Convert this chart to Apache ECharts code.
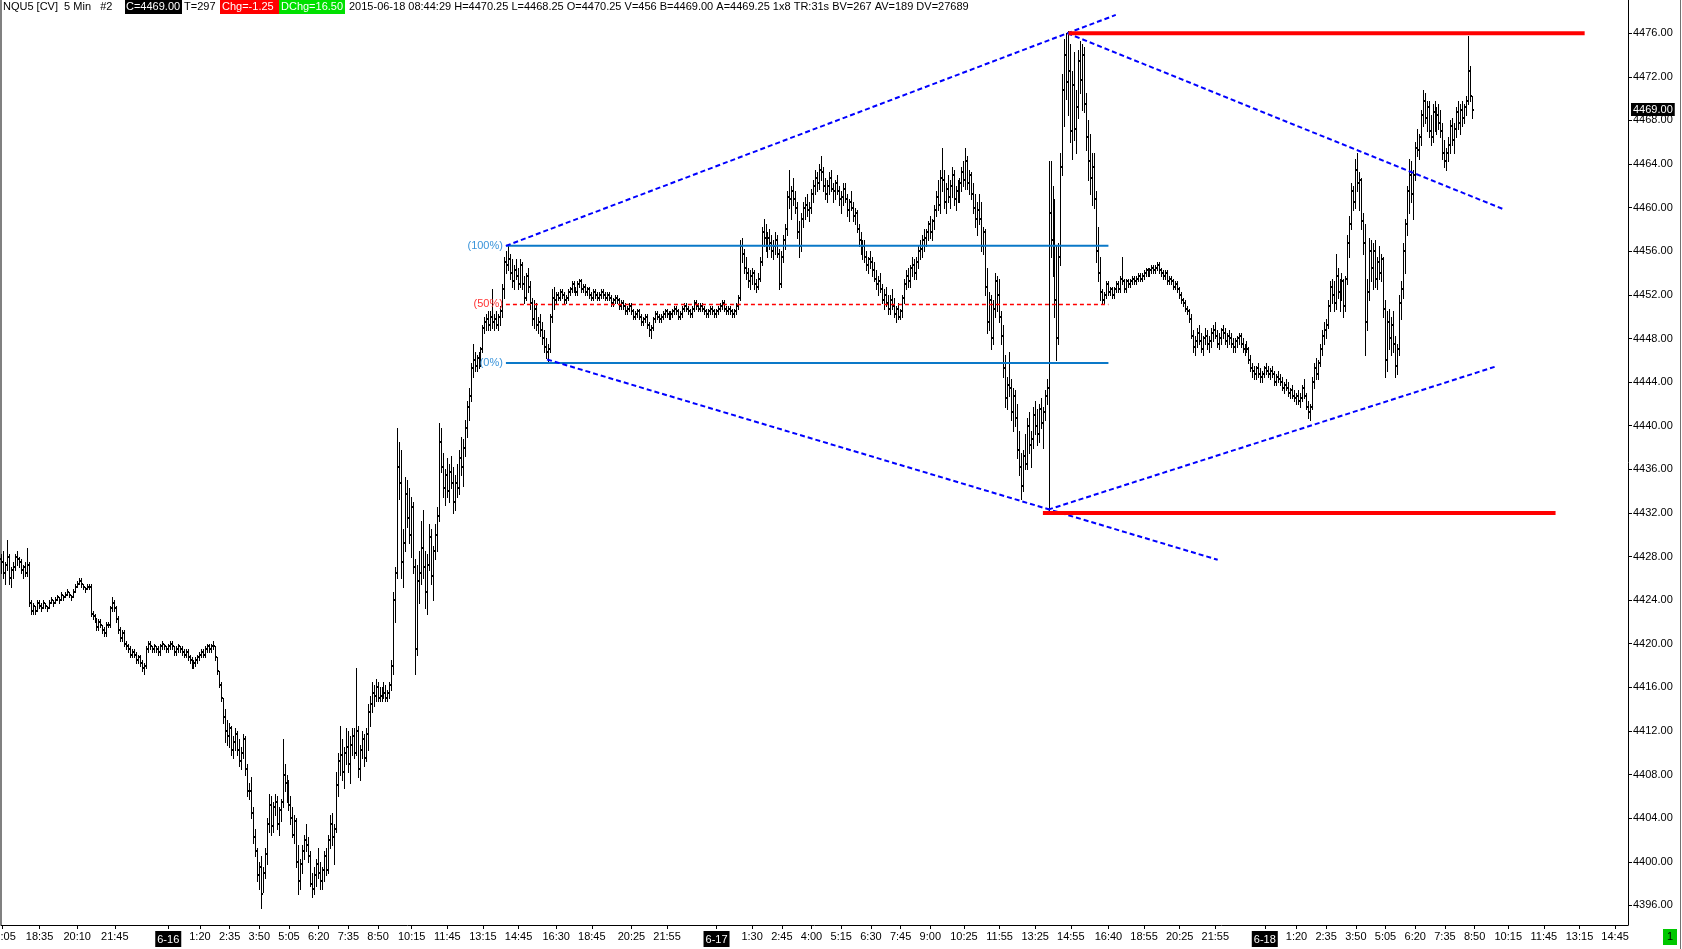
<!DOCTYPE html>
<html><head><meta charset="utf-8">
<script src="https://cdn.jsdelivr.net/npm/echarts@6/dist/echarts.min.js"></script>
<style>html,body{margin:0;padding:0;background:#fff;overflow:hidden}#c{width:1682px;height:949px}</style>
</head><body><div id="c"></div><script>
// ---- sessions (bar end times, 5-minute bars) ----
const sessions = [
  ['6-15','16:05','16:15'], ['6-15','16:30','17:15'], ['6-15','18:05','23:55'],
  ['6-16','0:00','16:15'], ['6-16','16:30','17:15'], ['6-16','18:05','23:55'],
  ['6-17','0:00','16:15'], ['6-17','16:30','17:15'], ['6-17','18:05','23:55'],
  ['6-18','0:00','15:15']
];
// x-axis tick labels (category keys)
const xTickLabels = [
 '6-15 16:05','6-15 18:35','6-15 20:10','6-15 21:45',
 '6-16 0:00','6-16 1:20','6-16 2:35','6-16 3:50','6-16 5:05','6-16 6:20','6-16 7:35','6-16 8:50','6-16 10:15','6-16 11:45','6-16 13:15','6-16 14:45','6-16 16:30','6-16 18:45','6-16 20:25','6-16 21:55',
 '6-17 0:00','6-17 1:30','6-17 2:45','6-17 4:00','6-17 5:15','6-17 6:30','6-17 7:45','6-17 9:00','6-17 10:25','6-17 11:55','6-17 13:25','6-17 14:55','6-17 16:40','6-17 18:55','6-17 20:25','6-17 21:55',
 '6-18 0:00','6-18 1:20','6-18 2:35','6-18 3:50','6-18 5:05','6-18 6:20','6-18 7:35','6-18 8:50','6-18 10:15','6-18 11:45','6-18 13:15','6-18 14:45'
];
// y-axis tick labels
const yTicks = [4396,4400,4404,4408,4412,4416,4420,4424,4428,4432,4436,4440,4444,4448,4452,4456,4460,4464,4468,4472,4476];

// ---- OHLC data: [high, low, close]; open = previous bar close ----
const firstOpen = 4427.75;
const bars0615 = [
[4428.25,4426.5,4427.5],[4428.5,4426,4426.5],[4427.5,4425.5,4427.25],[4429.5,4426.75,4428],[4428.25,4425.5,4426],
[4427,4425.25,4426.75],[4427.5,4426,4427],[4428.25,4426.75,4428],[4428.5,4427.25,4427.75],[4428,4427,4427.5],
[4427.75,4426.5,4426.75],[4427.25,4426,4427],[4427.5,4426.25,4426.5],[4428.75,4426.25,4427.25],[4427.5,4423.5,4423.75],
[4424,4422.75,4423],[4423.75,4422.75,4423.5],[4423.5,4422.75,4423],[4424,4423,4423.75],[4424,4423.25,4423.5],
[4423.75,4423,4423.25],[4424,4423.25,4423.75],[4423.75,4423.25,4423.5],[4423.5,4423,4423.25],[4424,4423.25,4423.75],
[4424.25,4423.75,4424],[4424,4423.5,4423.75],[4424.25,4423.75,4424],[4424.5,4424,4424.25],[4424.25,4423.75,4424],
[4424.75,4424,4424.5],[4424.5,4424,4424.25],[4424.75,4424.25,4424.5],[4425,4424.5,4424.75],[4424.75,4424.25,4424.5],
[4424.5,4424,4424.25],[4425,4424.25,4424.75],[4425.5,4424.75,4425.25],[4425.75,4425.25,4425.5],[4426,4425.5,4425.75],
[4426,4425.25,4425.5],[4425.5,4425,4425.25],[4425.25,4424.75,4425],[4425.5,4425,4425.25],[4425.5,4425,4425.25],
[4425.5,4422.5,4422.75],[4423,4422.25,4422.5],[4422.75,4422,4422.25],[4422.25,4421.25,4421.5],[4422.25,4421.25,4422],
[4422.25,4421.5,4421.75],[4421.75,4421,4421.25],[4421.5,4420.75,4421],[4422,4420.75,4421.75],[4422,4421.5,4421.75],
[4423.5,4421.5,4423.25],[4424.25,4423,4423.75],[4424,4423,4423.25],[4423.5,4422,4422.25],[4422.5,4421,4421.25],
[4421.5,4420.25,4420.5],[4421.25,4420.25,4421],[4421.25,4419.75,4420],[4420.25,4419.5,4419.75],[4420,4419.25,4419.5],
[4419.75,4418.75,4419],[4419.5,4418.75,4419.25],[4419.5,4418.75,4419],[4419.25,4418.25,4418.5],[4419,4418.25,4418.75],
[4419,4418,4418.25],[4418.5,4417.5,4417.75],[4418.25,4417.25,4418],[4419.75,4417.75,4419.5],[4420.25,4419.25,4420],
[4420.25,4419.5,4419.75],[4419.75,4419.25,4419.5],[4420,4419.25,4419.75],[4419.75,4419.25,4419.5],[4419.75,4419,4419.25],
[4420,4419,4419.75],[4420.25,4419.5,4420],[4420,4419.5,4419.75],[4419.75,4419.25,4419.5]
];
const bars0616 = [
[4420,4419.25,4419.75],[4420.25,4419.5,4420],[4420.25,4419.5,4419.75],[4419.75,4419,4419.25],[4419.75,4419,4419.5],
[4420,4419.25,4419.75],[4419.75,4419.25,4419.5],[4419.75,4419,4419.25],[4419.5,4418.75,4419],[4419.5,4418.75,4419.25],
[4419.5,4418.5,4418.75],[4419,4418.25,4418.5],[4418.75,4417.75,4418],[4418.5,4417.75,4418.25],[4418.75,4418,4418.5],
[4419,4418.25,4418.75],[4419.25,4418.5,4419],[4419.5,4418.75,4419.25],[4419.5,4418.75,4419],[4419.75,4418.75,4419.5],
[4420,4419.25,4419.75],[4420,4419.25,4419.5],[4420,4419.25,4419.75],[4420.25,4419.5,4419.75],[4419.75,4418.5,4418.75],
[4418.75,4417.25,4417.5],[4417.5,4416,4416.25],[4416.5,4414.75,4415],[4415,4412.75,4413.25],[4414,4411,4412],
[4413,4410.75,4411.5],[4412.75,4410.5,4412.25],[4412.5,4409.75,4410.25],[4411.5,4409.5,4411],[4412.25,4410.25,4411.75],
[4412,4409.75,4410.25],[4411.25,4408.75,4409.25],[4410.5,4408.5,4410],[4411.75,4409.5,4411.25],[4411.5,4408,4408.5],
[4409,4406,4406.5],[4407.25,4405.75,4406.5],[4407.75,4404,4404.5],[4405,4401.75,4402.25],[4403,4400.5,4401],
[4401.25,4398.25,4398.75],[4400,4397.5,4399.5],[4400.5,4395.75,4397],[4399.5,4397.25,4399],[4401.25,4398.5,4400.75],
[4404,4399.75,4403.5],[4406.25,4402.75,4405.25],[4406,4402.5,4403.25],[4405.5,4402.75,4405],[4406.25,4404.25,4405.5],
[4406,4403,4403.5],[4405,4402.5,4404.75],[4405.75,4403.75,4405.5],[4411.25,4405,4408],[4409,4406.5,4407.25],
[4408,4405.5,4406],[4407.5,4404.75,4405.25],[4406,4403.5,4404],[4405,4402.25,4402.5],[4404.25,4401.75,4403.75],
[4404,4399.5,4400],[4401.5,4397,4398.25],[4400.25,4397.5,4399.75],[4401.5,4399,4401],[4402.5,4400.25,4402],
[4403.5,4401,4401.5],[4402.25,4400,4400.5],[4401,4397.75,4398],[4399,4396.75,4397.5],[4399.5,4397,4398.75],
[4400.25,4397.75,4399.75],[4401.25,4398.5,4399],[4400,4397.5,4398.25],[4399.5,4397.5,4399.25],[4401,4398.25,4400.5],
[4401.25,4398.75,4399.25],[4402.5,4399,4402],[4404.25,4401.25,4403.5],[4404.5,4401.5,4402.25],[4403.5,4399.75,4403],
[4408.25,4402.75,4407],[4410,4406,4409.25],[4412.5,4408,4409.75],[4411.25,4407.5,4408.25],[4410.5,4406.75,4410],
[4412.25,4409,4410.5],[4412,4408.25,4409],[4411.5,4407.25,4410.75],[4412.25,4409.75,4411.5],[4412.25,4409.5,4410],
[4417.75,4409.75,4412],[4412.5,4407.75,4408.5],[4410.75,4407.5,4410.25],[4412,4409.5,4411.25],[4411.75,4408.75,4409.5],
[4412.25,4409.25,4411.75],[4414.5,4410.25,4413.75],[4415.25,4412.5,4414.5],[4416.5,4413.75,4415.5],[4416.25,4414.25,4415.25],
[4416.75,4414.75,4416],[4416.5,4414.75,4415],[4416,4414.75,4415.25],[4416,4414.75,4415.75],[4416.5,4415,4415.5],
[4416.25,4414.75,4415],[4415.75,4414.75,4415.5],[4416.5,4415,4416.25],[4418.5,4415.75,4418],[4424.75,4417.25,4424],
[4427,4422,4426.5],[4439.75,4426,4436.25],[4438.5,4433.25,4434.75],[4437.75,4426,4427.5],[4430.5,4425.25,4429.25],
[4435.25,4428.5,4433.75],[4435,4430.75,4431.5],[4434.25,4429.25,4430],[4433.5,4428,4432.5],[4433,4426.5,4427],
[4427.75,4417.25,4419.5],[4427.25,4419,4425.75],[4428.5,4423.75,4426.5],[4431.25,4425.5,4428.75],[4432.25,4426,4427],
[4428.5,4423.25,4424.75],[4428.25,4422.75,4427.25],[4431,4426.75,4429.75],[4430.5,4425.5,4426.25],[4429,4424,4428.5],
[4431,4427.75,4430],[4432.5,4428.5,4431.75],[4440.25,4431.25,4438.5],[4439.75,4435.75,4436.25],[4437.5,4433.5,4434.25],
[4436,4432.75,4435.5],[4437,4433.5,4434],[4436.5,4433,4435.75],[4437.25,4434.25,4434.75],[4436.25,4432,4433],
[4435.5,4432.25,4434.75],[4436.5,4433.5,4434.25],[4437.75,4433.75,4437],[4439,4435.5,4436.25],[4438.75,4434.5,4438],
[4440.5,4437.25,4439.75],[4442.25,4439,4441.75],[4443.5,4440.5,4442.75],[4445.75,4442.25,4445.25],[4447.5,4444.5,4446],
[4446.75,4445,4445.5],[4446.5,4445,4446.25],[4446.75,4445.25,4446],[4447.25,4445.5,4447],[4449.25,4446.75,4449],
[4450,4448.5,4449.5],[4450.25,4448.75,4449.75],[4450.5,4448.75,4449.25],[4450.5,4448.75,4450],[4452.5,4449,4449.5],
[4450.25,4448.75,4449.75],[4450.5,4449,4449.25],[4450.25,4448.75,4450],[4451,4449.25,4450.5],[4453,4450,4452.5],
[4455.5,4451.75,4455],[4456,4454,4454.75],[4456.5,4454.25,4455.25],[4455.75,4453.5,4454],[4455.25,4452.75,4453.25],
[4454.75,4452.5,4454.25],[4455.25,4453.5,4453.75],[4454.5,4452.5,4453],[4455.25,4452.75,4454.75],[4455,4452.5,4453],
[4453.75,4451.25,4451.75],[4454,4451.5,4453.75],[4454.5,4452.25,4452.75],[4453.25,4450.75,4451.25],[4451.75,4449.25,4449.75],
[4451.5,4449,4450.75],[4451.25,4448.75,4449.25],[4450,4448.5,4449.5],[4450.25,4448.25,4448.75],[4449.5,4447.5,4448],
[4448.75,4446.75,4447.25],[4448,4446.25,4446.75],[4447.5,4445.75,4447],[4450.25,4446.75,4450],[4452.5,4449.5,4451.75],
[4452.75,4450.75,4451.5],[4452.25,4451.25,4452],[4452.25,4451.5,4451.75],[4452.5,4451.5,4452.25],[4452.5,4451.75,4452],
[4452.25,4451.25,4451.5],[4452,4451.25,4451.75],[4452.5,4451.5,4452.25],[4452.75,4452,4452.5],[4453.25,4452.25,4453],
[4453.25,4452.25,4452.5],[4452.75,4452,4452.25],[4453.25,4452,4453],[4453.5,4452.75,4453.25],[4453.5,4452.25,4452.5],
[4453,4452.25,4452.75],[4453,4452,4452.25],[4452.75,4452,4452.5],[4452.75,4451.75,4452],[4452.25,4451.5,4451.75],
[4452.5,4451.5,4452.25],[4452.5,4451.75,4452],[4452.25,4451.5,4451.75],[4452.25,4451.5,4452],[4452.5,4451.75,4452.25],
[4452.5,4451.75,4452],[4452.25,4451.5,4451.75],[4452.25,4451.5,4452],[4452.25,4451.5,4451.75],[4452,4451,4451.25],
[4451.75,4451,4451.5],[4452,4451.25,4451.75],[4452,4451.25,4451.5],[4451.75,4450.75,4451],[4451.5,4450.75,4451.25],
[4451.5,4450.75,4451],[4451.25,4450.25,4450.5],[4451,4450.25,4450.75],[4451.25,4450.5,4451],[4451.25,4450.25,4450.5],
[4450.75,4449.75,4450],[4450.5,4449.75,4450.25],[4450.75,4450,4450.5],[4450.75,4449.75,4450],[4450.25,4449.25,4449.5],
[4450,4449.25,4449.75],[4450.25,4449.5,4450],[4450.25,4449,4449.25],[4449.5,4448.25,4448.75],[4449.25,4448,4449],
[4450,4448.75,4449.75],[4450.5,4449.5,4450.25],[4450.5,4449.75,4450],[4450.25,4449.5,4449.75],[4450.25,4449.5,4450],
[4450.5,4449.75,4450.25],[4450.75,4450,4450.5],[4450.75,4450,4450.25],[4450.5,4449.75,4450],[4450.5,4449.75,4450.25],
[4450.75,4450,4450.5],[4451,4450.25,4450.75],[4451,4450.25,4450.5],[4450.75,4449.75,4450],[4450.5,4449.75,4450.25],
[4451,4450,4450.75],[4451.25,4450.5,4451],[4451.25,4450.5,4450.75],[4451,4450.25,4450.5],[4450.75,4450,4450.25],
[4451,4450,4450.75],[4451.5,4450.5,4451.25],[4451.5,4450.75,4451],[4451.25,4450.5,4450.75],[4451.25,4450.5,4451],
[4451.25,4450.5,4450.75],[4451,4450.25,4450.5],[4450.75,4450,4450.25],[4450.75,4450,4450.5],[4451,4450.25,4450.75],
[4451,4450.25,4450.5],[4450.75,4450,4450.25]
];
const bars0617 = [
[4450.75,4450,4450.5],[4451,4450.25,4450.75],[4451.25,4450.5,4451],[4451.5,4450.75,4451.25],[4451.5,4450.5,4450.75],
[4451,4450.25,4450.5],[4451,4450.25,4450.75],[4451,4450.25,4450.5],[4450.75,4450,4450.25],[4450.75,4450,4450.5],
[4451.25,4450.25,4451],[4452,4450.75,4451.75],[4457,4451.5,4456.5],[4457.25,4455,4455.75],[4456.25,4454,4454.5],
[4455.5,4453.5,4454],[4454.5,4452.75,4453.25],[4454.25,4452.5,4453.75],[4454.5,4453,4454],[4454.25,4452.5,4453],
[4453.5,4452.25,4452.75],[4454,4452.5,4453.5],[4455.5,4453.25,4455],[4458.25,4454.75,4457.75],[4459,4456.5,4457.25],
[4458.5,4456,4456.5],[4457.75,4455.5,4457.25],[4458,4456.25,4456.75],[4457.5,4455.5,4456],[4457,4455.25,4456.5],
[4457.75,4455.75,4457],[4457.5,4455.5,4455.75],[4456.25,4452.5,4453],[4456,4452.75,4455.5],[4457.5,4455,4457],
[4458.5,4456.25,4458],[4461.5,4457.5,4461],[4463.5,4460,4460.75],[4462,4459,4461.5],[4462.75,4460.25,4460.75],
[4461.5,4459.5,4460],[4460.5,4457.25,4457.75],[4458.75,4455.5,4456.5],[4459.5,4456,4459],[4460.5,4458.25,4460],
[4461,4459,4460.25],[4461.25,4459.25,4459.75],[4460.5,4458.75,4460],[4461.75,4459.5,4461.25],[4462.5,4460.5,4462],
[4463.5,4461.25,4462.75],[4463.25,4461.5,4462.25],[4464,4461.75,4463.5],[4464.75,4462.5,4463.25],[4463.75,4461.5,4462],
[4462.75,4460.75,4461.25],[4462.5,4460.5,4462],[4463.25,4461.25,4462.75],[4463.5,4461.5,4461.75],[4462.25,4460.5,4461.5],
[4462.5,4460.75,4462.25],[4463,4461.25,4461.5],[4462,4460.25,4460.75],[4461.5,4459.5,4461],[4462.25,4460.25,4461.75],
[4462.25,4460.5,4460.75],[4461.25,4459.25,4459.75],[4460.75,4458.75,4460.5],[4461.5,4459.75,4460],[4460.5,4458.75,4459.25],
[4460,4458.5,4459.5],[4459.75,4457.75,4458],[4458.5,4456.5,4457],[4457.75,4455.75,4456.25],[4457,4455.25,4456.5],
[4457,4455,4455.5],[4456,4454.25,4454.75],[4455.5,4454,4455.25],[4456,4454.5,4455],[4455.5,4453.75,4454.25],
[4455,4453.25,4453.5],[4454.25,4452.5,4453],[4453.75,4452,4453.25],[4454,4452.25,4452.5],[4453,4451.25,4451.5],
[4452.5,4450.75,4452],[4452.75,4451,4451.25],[4452,4450.25,4450.75],[4452,4450.25,4451.5],[4452.5,4450.75,4451],
[4451.75,4450,4450.25],[4451,4449.5,4450.75],[4451.25,4449.75,4450],[4450.75,4449.75,4450.5],[4452,4450,4451.75],
[4453.5,4451.25,4453],[4454.25,4452.5,4453.75],[4454.5,4452.75,4453.25],[4454.75,4452.75,4454.5],[4455.5,4453.75,4454.75],
[4455.25,4453.5,4454],[4455.5,4453.5,4455],[4456.5,4454.5,4456],[4457,4455.25,4456.25],[4457.5,4455.5,4457],
[4458,4456,4457.25],[4458,4456.5,4457.75],[4458.75,4457,4458.5],[4459.25,4457.25,4457.75],[4459,4457,4458.75],
[4460.25,4458,4459.75],[4461.5,4459.25,4461],[4462.5,4459.75,4460.25],[4463.5,4459.5,4462.75],[4465.5,4461.5,4462.5],
[4463.5,4460,4460.5],[4462.25,4459.5,4461.75],[4463,4460.5,4461],[4462.5,4460,4462],[4463.75,4461,4463],
[4463.5,4460.25,4460.75],[4462,4459.75,4461.5],[4462.5,4460.5,4461.25],[4462.75,4460.5,4462.25],[4463.75,4461.5,4463.25],
[4464.25,4462,4462.5],[4465.5,4461.75,4464.25],[4464.75,4461.75,4462.25],[4463.5,4461.25,4463],[4463.25,4460.75,4461.25],
[4462.25,4459.5,4460],[4461.25,4458.25,4459],[4460.5,4457.5,4459.75],[4461.25,4458.5,4459],[4460.5,4456,4456.5],
[4458.25,4455.75,4457.75],[4458,4452,4452.75],[4454.5,4448.5,4449.5],[4452.25,4448.75,4451.5],[4452,4447,4448],
[4451.5,4447.5,4450.75],[4454,4450,4453.25],[4453.75,4450.5,4452],[4453.5,4449.5,4450],[4450.5,4447.5,4448.25],
[4449.25,4444.5,4445.25],[4446.5,4441.75,4442.5],[4444.5,4441.5,4443.75],[4446.75,4442.75,4443.5],[4444.25,4440.5,4441.25],
[4443.5,4439.5,4442.75],[4443.25,4440,4440.75],[4442,4437,4437.75],[4439.5,4435.5,4436.25],[4437.5,4433.25,4434.5],
[4437.75,4434,4437.25],[4439.25,4436,4436.5],[4440.75,4436,4440],[4441.25,4437.5,4438.25],[4439.5,4436.25,4438.75],
[4441.75,4438,4441],[4442.25,4439.25,4440],[4441.5,4438.25,4439.25],[4442,4438.5,4441.5],[4442.5,4439.75,4440.25],
[4441.75,4438,4441.25],[4443.25,4440.5,4442.75],[4444.25,4442,4443.5],[4464.25,4432.25,4459.5],[4464.25,4455.5,4457],
[4462,4453.75,4455.25],[4460.75,4450,4451.5],[4456.5,4446,4448],[4456.75,4447.5,4455.5],[4465,4454.75,4463.75],
[4472.25,4463,4470.75],[4475.5,4467.5,4474],[4476,4470,4471.5],[4476.25,4468.5,4472.5],[4475,4466,4467],
[4472.5,4464.5,4471.25],[4474.25,4466.25,4467.25],[4470.75,4465,4469.25],[4474.5,4468.25,4473.5],[4475.25,4470.5,4471.75],
[4475,4469,4474],[4474.75,4468.75,4469.5],[4470.5,4465.25,4466.5],[4468,4462.5,4464.25],[4466.75,4461.25,4462.75],
[4465,4460.25,4463.75],[4465,4460,4460.75],[4461.5,4455,4456],[4458.25,4453.25,4454],[4455.5,4451.5,4452.25],
[4452.5,4451.25,4451.5],[4452.25,4451.25,4452],[4453.25,4451.75,4453],[4453.25,4452,4452.25],[4452.75,4452,4452.5],
[4452.75,4451.75,4452],[4452.75,4451.75,4452.5],[4453.25,4452.25,4453],[4453.25,4452.25,4452.5],[4453.75,4452.25,4453.5],
[4455.5,4453,4453.25],[4453.5,4452.25,4452.5],[4453.5,4452.25,4453.25],[4453.5,4452.75,4453],[4453.5,4452.75,4453.25],
[4453.75,4453,4453.5],[4453.75,4453,4453.25],[4453.75,4453,4453.5],[4454,4453.25,4453.75],[4454,4453.25,4453.5],
[4454,4453.25,4453.75],[4454.25,4453.5,4454],[4454.5,4453.75,4454.25],[4454.5,4453.75,4454],[4454.5,4453.75,4454.25],
[4454.75,4454,4454.5],[4454.75,4454,4454.25],[4454.75,4454,4454.5],[4455,4454.25,4454.75],[4455,4454,4454.25],
[4454.5,4453.75,4454],[4454.25,4453.5,4453.75],[4454.25,4453.5,4454],[4454.25,4453,4453.25],[4453.75,4453,4453.5],
[4453.75,4453,4453.25],[4453.5,4452.5,4452.75],[4453.25,4452.5,4453],[4453.25,4452.25,4452.5],[4452.75,4451.75,4452],
[4452.25,4451.25,4451.5],[4451.75,4451,4451.25],[4451.5,4450.5,4450.75],[4451,4450.25,4450.5],[4450.75,4449.5,4449.75],
[4450.25,4448,4448.25],[4448.75,4446.75,4447.25],[4448.25,4446.5,4447.75],[4449,4447.25,4448.5],[4449.25,4447.5,4447.75],
[4448.5,4446.75,4447],[4448.25,4446.5,4448],[4449,4447.5,4448.25],[4448.75,4447,4447.5],[4448.25,4446.75,4447.75],
[4449,4447.25,4448.5],[4449.25,4447.75,4448.75],[4449.5,4448,4448.25],[4448.75,4447.25,4447.5],[4448.5,4447,4448],
[4449,4447.5,4448.75],[4449.25,4448,4448.5],[4449,4447.5,4447.75],[4448.5,4447.25,4448.25],[4448.75,4447.5,4448],
[4448.5,4447.25,4447.5],[4448,4446.75,4447.25],[4448,4446.75,4447.75],[4448.25,4447.25,4448],[4448.5,4447.5,4448.25],
[4448.5,4447.25,4447.5],[4448,4446.75,4447],[4447.5,4446.5,4447.25],[4447.75,4446.75,4447],[4447.25,4445.75,4446],
[4446.5,4445,4445.25],[4445.75,4444.5,4445],[4445.5,4444.25,4444.75],[4445.5,4444.25,4445.25],[4445.75,4444.5,4444.75],
[4445.25,4444,4444.5],[4445,4444,4444.75]
];
const bars0618 = [
[4445.5,4444.5,4445.25],[4445.75,4444.75,4445],[4445.5,4444.5,4444.75],[4445.25,4444.25,4445],[4445.5,4444.5,4444.75],
[4445,4443.75,4444],[4444.75,4443.75,4444.5],[4445,4444,4444.25],[4444.75,4443.75,4444],[4444.5,4443.25,4443.5],
[4444,4443,4443.75],[4444.25,4443.25,4443.5],[4444,4442.75,4443],[4443.5,4442.5,4443.25],[4443.75,4442.5,4442.75],
[4443.25,4442.25,4442.5],[4443,4442,4442.75],[4443.25,4442,4442.25],[4443,4441.75,4442.5],[4443.75,4442.25,4443.5],
[4444.25,4442.5,4442.75],[4443,4441.5,4441.75],[4442.25,4440.75,4441.25],[4442,4440.5,4441.75],[4444.5,4441.5,4444],
[4445.75,4443.5,4445.25],[4446.25,4444.25,4444.75],[4446,4444.25,4445.75],[4447.5,4445.5,4447],[4448.75,4446.5,4448.25],
[4449.5,4447.5,4448.75],[4449.75,4448,4449.25],[4451.5,4449,4451],[4453.25,4450.5,4452.75],[4453.5,4451.25,4452],
[4453.25,4450.5,4451.25],[4455.75,4450.75,4453.75],[4454.5,4451.75,4452.25],[4453.5,4450.5,4452.75],[4454,4451.5,4453.25],
[4453.5,4450,4451],[4453.75,4450.5,4453.5],[4457.5,4453,4456.75],[4459.25,4455.5,4458.5],[4462.25,4458,4461.5],
[4462,4459.75,4460.5],[4464.5,4460,4463.5],[4465,4461.5,4462.25],[4463.25,4459.75,4462.5],[4462.75,4458,4458.75],
[4459.5,4455.75,4456.75],[4458.5,4446.5,4449.5],[4453.5,4448.75,4452.25],[4457.25,4451.5,4456],[4457,4453.25,4454.5],
[4456.75,4452.5,4456],[4457,4452.75,4453.5],[4455.5,4452.5,4455],[4456.5,4453.5,4454],[4455.75,4453.25,4455.25],
[4455.5,4450,4450.75],[4451.5,4444.5,4446],[4450.5,4445,4449.5],[4450.75,4447,4448],[4450,4446.5,4449.25],
[4450.5,4446.75,4447.5],[4448.25,4444.5,4445.5],[4447.5,4444.75,4447],[4452,4446.5,4451.25],[4453.25,4449.75,4452.5],
[4456.75,4451.75,4456],[4459,4454,4458.5],[4462,4457.5,4461.5],[4464.5,4459.5,4463],[4464.25,4460.5,4461.25],
[4463.5,4459,4463],[4466,4462.5,4465.5],[4467.25,4464.75,4465.25],[4466.75,4464.5,4466.5],[4469,4465.75,4468.5],
[4470.75,4467.5,4469.75],[4470.5,4467.75,4468.25],[4469.75,4467,4469.25],[4469.75,4466.5,4467],[4468.5,4465.75,4466.5],
[4469.5,4466,4468.75],[4469.75,4467,4467.5],[4469.25,4466.75,4468.5],[4469.5,4467.25,4467.75],[4469,4466.5,4467],
[4467.75,4464.5,4465],[4466.25,4463.75,4464.25],[4465.5,4463.5,4465],[4466.5,4464.25,4465.75],[4468,4465,4467.5],
[4468.25,4465.75,4466.25],[4467.75,4465,4467.25],[4469.25,4466.5,4468.75],[4469.75,4467.25,4467.75],[4469.5,4466.75,4469],
[4469.75,4467.5,4468.25],[4469.5,4467.75,4469.25],[4470.25,4468.5,4469.75],[4475.75,4469.5,4472.5],[4473,4469.75,4470.25],
[4470.25,4468.25,4469]
];

// ---- drawing tools (bar index, price) ----
const trendLines = [ // [x1, p1, x2, p2]
  [254.6, 4456.5, 562.7, 4477.68],
  [538.3, 4476.0, 758.0, 4459.9],
  [275.4, 4446.08, 614.2, 4427.7],
  [528.5, 4432.3, 754.1, 4445.4]
];
const levelLines = [ // [x1, x2, price]
  [538.8, 799.6, 4476.0],
  [525.9, 784.9, 4432.0]
];
const fibStart = 254.6, fibEnd = 559.0;
const fibLabels = ['(100%)', '(50%)', '(0%)'];
const fibPrices = [4456.5, 4451.125, 4445.75];

// ---- build ----
function buildCategories() {
  const out = [];
  for (const [d, s, e] of sessions) {
    const [sh, sm] = s.split(':').map(Number), [eh, em] = e.split(':').map(Number);
    for (let t = sh * 60 + sm; t <= eh * 60 + em; t += 5)
      out.push(d + ' ' + Math.floor(t / 60) + ':' + String(t % 60).padStart(2, '0'));
  }
  return out;
}
const categories = buildCategories();
const barsHLC = [].concat(bars0615, bars0616, bars0617, bars0618);
const ohlcData = barsHLC.map((b, i) => [i, i === 0 ? firstOpen : barsHLC[i - 1][2], b[0], b[1], b[2]]);
const lastClose = barsHLC[barsHLC.length - 1][2];
const labelIdx = xTickLabels.map(k => categories.indexOf(k));
const FONT = '"Liberation Sans", Arial, sans-serif';

function xLabel(v) {
  const k = categories[Math.round(v)];
  if (!k) return '';
  const [d, t] = k.split(' ');
  return t === '0:00' ? '{d|' + d + '}' : t;
}

function renderBar(params, api) {
  const i = api.value(0);
  const ph = api.coord([i, api.value(2)]);
  const pl = api.coord([i, api.value(3)]);
  const yo = Math.round(api.coord([i, api.value(1)])[1]);
  const yc = Math.round(api.coord([i, api.value(4)])[1]);
  const x = Math.floor(ph[0]);
  const yh = Math.round(ph[1]), yl = Math.round(pl[1]);
  const st = { fill: '#000' };
  return { type: 'group', children: [
    { type: 'rect', shape: { x: x, y: yh, width: 1, height: Math.max(2, yl - yh + 1) }, style: st },
    { type: 'rect', shape: { x: x - 1, y: yo - 1, width: 1, height: 2 }, style: st },
    { type: 'rect', shape: { x: x + 1, y: yc - 1, width: 1, height: 2 }, style: st }
  ]};
}

const series = [{
  type: 'custom', name: 'NQU5', renderItem: renderBar, data: ohlcData,
  encode: { x: 0, y: [2, 3] }, z: 2, animation: false, progressive: 0, silent: true
}];
fibPrices.forEach((p, k) => {
  series.push({
    type: 'line', data: [[fibStart, p], [fibEnd, p]], symbol: 'none', silent: true, animation: false, z: 4,
    lineStyle: k === 1 ? { color: '#ff0000', width: 1.5, type: [4, 3] } : { color: '#0a78c8', width: 2 }
  });
});
trendLines.forEach(t => series.push({
  type: 'line', data: [[t[0], t[1]], [t[2], t[3]]], symbol: 'none', silent: true, animation: false, z: 5,
  lineStyle: { color: '#0000ff', width: 2, type: [5, 3] }
}));
levelLines.forEach(t => series.push({
  type: 'line', data: [[t[0], t[2]], [t[1], t[2]]], symbol: 'none', silent: true, animation: false, z: 6,
  lineStyle: { color: '#ff0000', width: 4 }
}));
series.push({
  type: 'custom', silent: true, animation: false, z: 7,
  data: fibPrices.map((p, k) => [fibStart, p, k]),
  encode: { x: 0, y: 1 },
  renderItem: (params, api) => {
    const k = api.value(2);
    const pt = api.coord([api.value(0), api.value(1)]);
    return { type: 'text', x: pt[0] - 3, y: pt[1], style: {
      text: fibLabels[k], fill: k === 1 ? '#ff3333' : '#3a94da', font: '11px ' + FONT,
      align: 'right', verticalAlign: 'middle' } };
  }
});

const yMin = 4394.2, yMax = 4479.05;
const chart = echarts.init(document.getElementById('c'), null, { renderer: 'canvas' });
const hdr = (x, text, fill) => ({ type: 'text', x: x, y: 7, silent: true,
  style: { text: text, fill: fill || '#000', font: '11px ' + FONT, verticalAlign: 'middle' } });
const box = (x, w, fill) => ({ type: 'rect', silent: true, shape: { x: x, y: 0, width: w, height: 14 }, style: { fill: fill } });

chart.setOption({
  animation: false,
  backgroundColor: '#fff',
  textStyle: { fontFamily: FONT },
  grid: { left: 1, right: 54, top: 0, bottom: 24, containLabel: false, outerBoundsMode: 'none' },
  xAxis: {
    type: 'value', min: -0.5, max: categories.length - 0.5,
    axisLine: { show: true, onZero: false, lineStyle: { color: '#000', width: 1 } },
    axisTick: { show: true, customValues: labelIdx, length: 4, lineStyle: { color: '#000' } },
    axisLabel: { customValues: labelIdx, formatter: xLabel, fontSize: 11, color: '#000', margin: 6,
      rich: { d: { backgroundColor: '#000', color: '#fff', fontSize: 11, padding: [3, 2, 2, 2] } } },
    splitLine: { show: false }
  },
  yAxis: [{
    type: 'value', position: 'right', min: yMin, max: yMax,
    axisLine: { show: true, onZero: false, lineStyle: { color: '#000', width: 1 } },
    axisTick: { show: true, customValues: yTicks, length: 4, lineStyle: { color: '#000' } },
    axisLabel: { customValues: yTicks, formatter: v => v.toFixed(2), fontSize: 11, color: '#000', margin: 5 },
    splitLine: { show: false }
  }, {
    type: 'value', position: 'right', min: yMin, max: yMax,
    axisLine: { show: false, onZero: false }, axisTick: { show: false }, splitLine: { show: false },
    axisLabel: { customValues: [lastClose], formatter: v => v.toFixed(2), fontSize: 11, color: '#fff',
      backgroundColor: '#000', padding: [1, 2, 1, 2], margin: 3 }
  }],
  series: series,
  graphic: [
    { type: 'rect', silent: true, shape: { x: 0, y: 0, width: 2, height: 925 }, style: { fill: '#808080' } },
    { type: 'rect', silent: true, shape: { x: 1680, y: 0, width: 1, height: 949 }, style: { fill: '#707070' } },
    hdr(3, 'NQU5 [CV]  5 Min   #2'),
    box(125, 57, '#000'), hdr(126, 'C=4469.00', '#fff'),
    hdr(184, 'T=297'),
    box(220, 59, '#ff0000'), hdr(222, 'Chg=-1.25', '#fff'),
    box(279, 66, '#00e000'), hdr(281, 'DChg=16.50', '#fff'),
    hdr(349, '2015-06-18 08:44:29 H=4470.25 L=4468.25 O=4470.25 V=456 B=4469.00 A=4469.25 1x8 TR:31s BV=267 AV=189 DV=27689'),
    { type: 'rect', silent: true, shape: { x: 1663, y: 929, width: 14, height: 16 }, style: { fill: '#00c800' } },
    { type: 'text', silent: true, x: 1670, y: 937, style: { text: '1', fill: '#000', font: '11px ' + FONT, align: 'center', verticalAlign: 'middle' } }
  ]
});
</script></body></html>
